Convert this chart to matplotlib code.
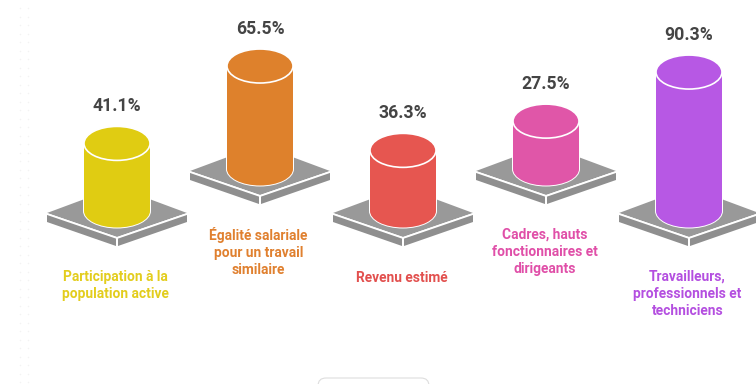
import numpy as np
import matplotlib
matplotlib.use('Agg')
import matplotlib.pyplot as plt
from matplotlib.patches import Polygon, Ellipse, Rectangle, FancyBboxPatch

categories = ['Participation à la\npopulation active',
              'Égalité salariale\npour un travail\nsimilaire',
              'Revenu estimé',
              'Cadres, hauts\nfonctionnaires et\ndirigeants',
              'Travailleurs,\nprofessionnels et\ntechniciens']
values = [41.1, 65.5, 36.3, 27.5, 90.3]
colors = ['#e0cc12', '#de812c', '#e65650', '#e056a8', '#b758e4']
text_colors = ['#e3cd1d', '#e0802f', '#e2504e', '#e04fa8', '#b44fe0']

centers = [117, 260, 403, 546, 689]
base_y = [211, 169, 211, 169, 211]
label_y = [285.5, 252, 277.5, 252, 294]

plt.rcParams['font.family'] = ['Roboto', 'DejaVu Sans']

fig = plt.figure(figsize=(7.56, 3.84), dpi=100)
ax = fig.add_axes([0, 0, 1, 1])
ax.set_xlim(0, 756)
ax.set_ylim(384, 0)
ax.axis('off')

# faint dot grid at the left edge
gx, gy = np.meshgrid([20, 28], np.arange(8, 384, 8.5))
ax.scatter(gx.ravel(), gy.ravel(), s=1.2, color='#f3f3f3', linewidths=0)

rw, ry = 33, 16.5
for i in range(len(values)):
    x, y = centers[i], base_y[i]
    h = 1.45 * values[i] + 8
    c = colors[i]

    # platform: top diamond, two sides, white only on the front edges
    top = [(x - 70, y + 2), (x, y - 24), (x + 70, y + 2), (x, y + 26)]
    left = [(x - 70, y + 3), (x - 1, y + 27), (x - 1, y + 35), (x - 70, y + 11)]
    right = [(x + 70, y + 3), (x + 1, y + 27), (x + 1, y + 35), (x + 70, y + 11)]
    ax.add_patch(Polygon(left, fc='#8f8f8f', ec='none', zorder=2))
    ax.add_patch(Polygon(right, fc='#8f8f8f', ec='none', zorder=2))
    ax.add_patch(Polygon(top, fc='#999999', ec='none', zorder=2))
    ax.plot([x - 70, x, x + 70], [y + 3, y + 27, y + 3], color='white', lw=1.3, zorder=2.5)
    ax.plot([x, x], [y + 27, y + 35], color='white', lw=1.3, zorder=2.5)

    # cylinder
    ax.add_patch(Ellipse((x, y), 2 * rw + 2, 2 * ry + 2, fc='white', ec='none', zorder=3))
    ax.add_patch(Rectangle((x - rw - 1, y - h), 2 * rw + 2, h, fc='white', ec='none', zorder=3))
    ax.add_patch(Ellipse((x, y), 2 * rw, 2 * ry, fc=c, ec='none', zorder=4))
    ax.add_patch(Rectangle((x - rw, y - h), 2 * rw, h, fc=c, ec='none', zorder=4))
    ax.add_patch(Ellipse((x, y - h), 2 * rw, 2 * ry + 1, fc=c, ec='white', lw=1.2, zorder=5))

    ax.text(x, y - h - 37, '%.1f%%' % values[i], ha='center', va='center',
            fontsize=12.7, fontweight='bold', color='#444444', zorder=6)
    ax.text(x - 1.5, label_y[i], categories[i], ha='center', va='center', fontsize=9.9,
            fontweight='bold', color=text_colors[i], linespacing=1.27, zorder=6)

# clipped button at the bottom
ax.add_patch(FancyBboxPatch((318, 378), 111, 20, boxstyle='round,pad=0,rounding_size=8',
                            fc='white', ec='#dddddd', lw=0.8, zorder=6))

fig.savefig('out.png', dpi=100)
